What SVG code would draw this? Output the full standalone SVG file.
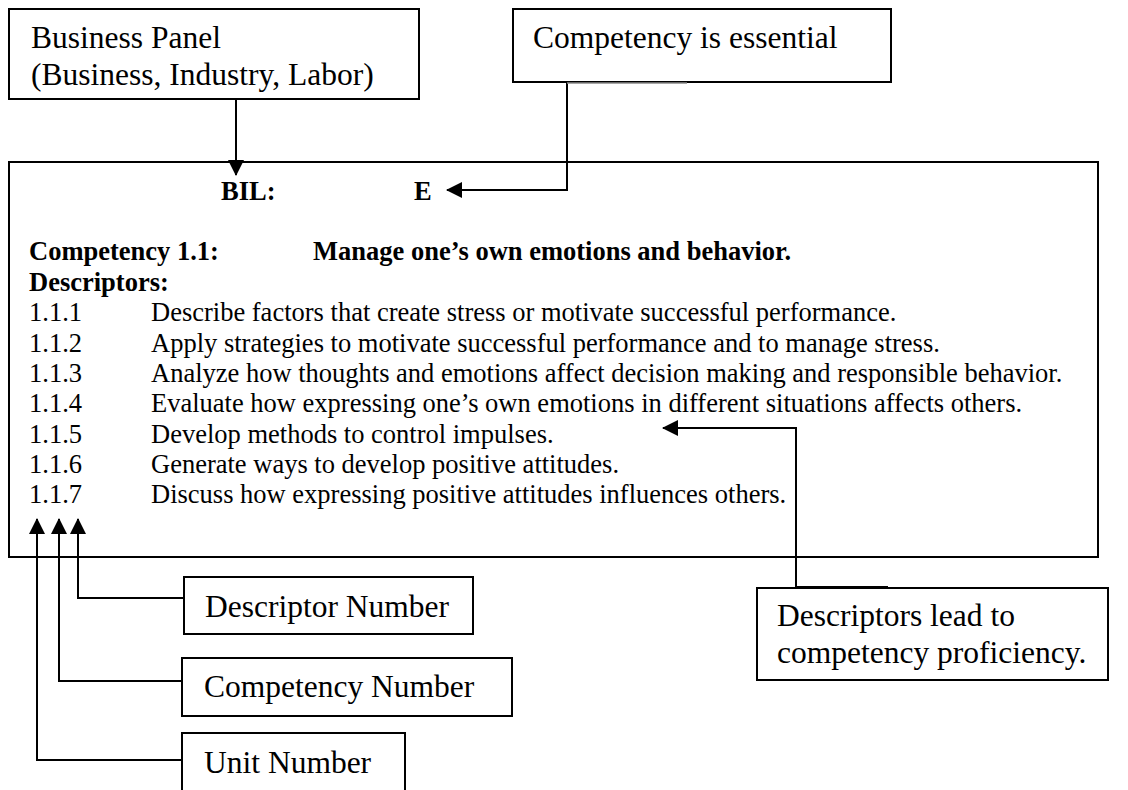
<svg xmlns="http://www.w3.org/2000/svg" width="1128" height="790" viewBox="0 0 1128 790">
  <defs>
    <marker id="arr" markerUnits="userSpaceOnUse" markerWidth="16" markerHeight="16" viewBox="0 0 16 16" refX="15" refY="8" orient="auto">
      <path d="M0,0 L16,8 L0,16 Z" fill="#000"/>
    </marker>
    <style>
      .box { fill: #fff; stroke: #000; stroke-width: 2; }
      .lbl { font-family: "Liberation Serif", "Times New Roman", serif; font-size: 31.5px; fill: #000; }
      .body { font-family: "Liberation Serif", "Times New Roman", serif; font-size: 26.5px; fill: #000; }
      .b { font-weight: bold; }
      .conn { fill: none; stroke: #000; stroke-width: 2; }
    </style>
  </defs>
  <rect width="1128" height="790" fill="#fff"/>

  <g id="main-box">
    <rect class="box" x="9" y="162" width="1089" height="395"/>
    <text class="body b" x="221" y="199.5">BIL:</text>
    <text class="body b" x="414" y="199.5">E</text>
    <text class="body b" x="29" y="260">Competency 1.1:</text>
    <text class="body b" x="313" y="260">Manage one’s own emotions and behavior.</text>
    <text class="body b" x="29" y="290.5">Descriptors:</text>
    <text class="body" x="29" y="321">1.1.1</text>
    <text class="body" x="151" y="321">Describe factors that create stress or motivate successful performance.</text>
    <text class="body" x="29" y="351.5">1.1.2</text>
    <text class="body" x="151" y="351.5">Apply strategies to motivate successful performance and to manage stress.</text>
    <text class="body" x="29" y="382">1.1.3</text>
    <text class="body" x="151" y="382">Analyze how thoughts and emotions affect decision making and responsible behavior.</text>
    <text class="body" x="29" y="412">1.1.4</text>
    <text class="body" x="151" y="412">Evaluate how expressing one’s own emotions in different situations affects others.</text>
    <text class="body" x="29" y="442.5">1.1.5</text>
    <text class="body" x="151" y="442.5">Develop methods to control impulses.</text>
    <text class="body" x="29" y="473">1.1.6</text>
    <text class="body" x="151" y="473">Generate ways to develop positive attitudes.</text>
    <text class="body" x="29" y="503">1.1.7</text>
    <text class="body" x="151" y="503">Discuss how expressing positive attitudes influences others.</text>
  </g>

  <g id="business-panel">
    <rect class="box" x="9" y="9" width="410" height="90"/>
    <text class="lbl" x="31" y="47.5">Business Panel</text>
    <text class="lbl" x="31" y="85">(Business, Industry, Labor)</text>
  </g>

  <g id="competency-essential">
    <rect class="box" x="513" y="9" width="378" height="73"/>
    <text class="lbl" x="533" y="48">Competency is essential</text>
  </g>

  <g id="descriptor-number">
    <rect class="box" x="184" y="577" width="289" height="57"/>
    <text class="lbl" x="205" y="617">Descriptor Number</text>
  </g>

  <g id="competency-number">
    <rect class="box" x="182" y="658" width="330" height="58"/>
    <text class="lbl" x="204" y="697">Competency Number</text>
  </g>

  <g id="unit-number">
    <rect class="box" x="182" y="733" width="223" height="70"/>
    <text class="lbl" x="204" y="773">Unit Number</text>
  </g>

  <g id="descriptors-lead">
    <rect class="box" x="757" y="588" width="351" height="92"/>
    <text class="lbl" x="777" y="626">Descriptors lead to</text>
    <text class="lbl" x="777" y="663">competency proficiency.</text>
  </g>

  <g id="connectors">
    <path class="conn" d="M236,99 L236,175" marker-end="url(#arr)"/>
    <path class="conn" d="M567,82 L567,190 L447,190" marker-end="url(#arr)"/>
    <line x1="567" y1="83" x2="687" y2="83" stroke="#8a8a8a" stroke-width="1.5"/>
    <path class="conn" d="M796,588 L796,428 L663,428" marker-end="url(#arr)"/>
    <line x1="796" y1="587" x2="888" y2="587" stroke="#000" stroke-width="2"/>
    <path class="conn" d="M184,598 L78,598 L78,519" marker-end="url(#arr)"/>
    <path class="conn" d="M182,681 L59,681 L59,519" marker-end="url(#arr)"/>
    <path class="conn" d="M182,760 L37,760 L37,519" marker-end="url(#arr)"/>
  </g>
</svg>
